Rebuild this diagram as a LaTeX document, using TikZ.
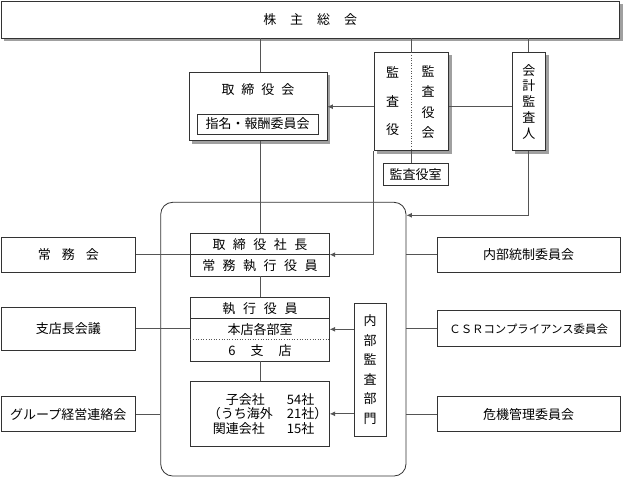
\documentclass[tikz,border=0pt]{standalone}
\usepackage{fontspec}
\newfontfamily\jp{Noto Sans CJK JP}
\usetikzlibrary{arrows.meta,backgrounds,calc}
\definecolor{bordc}{HTML}{333333}
\definecolor{linec}{HTML}{555555}
\definecolor{shadc}{HTML}{A0A0A0}
\newcommand{\sk}[1]{\hspace{#1pt}}
\begin{document}
\begin{tikzpicture}[x=1pt,y=-1pt,
  every node/.style={font=\jp\fontsize{13}{15}\selectfont, text=black, inner sep=0pt},
  box/.style={draw=bordc, line width=0.8pt, fill=white, rectangle},
  ln/.style={draw=linec, line width=0.8pt},
  arr/.style={ln, -{Latex[length=5.5pt,width=5pt]}},
  vtxt/.style={align=center, font=\jp\fontsize{13}{#1}\selectfont}
]
\useasboundingbox (0,0) rectangle (623,479);

% top
\node[box, minimum width=618.5pt, minimum height=37pt] (top) at (310.25,19.5) {株\sk{14}主\sk{14}総\sk{14}会};

% board
\node[box, minimum width=138pt, minimum height=68pt] (tori) at (258,106.7) {};
\node (toritxt) at (258,90) {取\sk{7}締\sk{7}役\sk{7}会};
\node[box, minimum width=121pt, minimum height=20pt] (shimei) at (257.5,124) {指名・報酬委員会};

% auditors
\node[box, minimum width=74.5pt, minimum height=98pt] (kansa) at (411.25,101.7) {};
\draw[dotted, linec, line width=0.6pt] (kansa.north) -- (kansa.south);
\node[vtxt=28.5] (kyaku) at (392.7,101.5) {監\\査\\役};
\node[vtxt=20.4] (kkai) at (428,102.3) {監\\査\\役\\会};

\node[box, minimum width=33.5pt, minimum height=98pt, vtxt=15.8] (kaikei) at (528.75,101.7) {会\\計\\監\\査\\人};

\node[box, minimum width=65pt, minimum height=22.7pt] (kshitsu) at (415.5,174.3) {監査役室};

% big rounded box
\node[draw=bordc, line width=0.8pt, rounded corners=12pt, minimum width=245.3pt, minimum height=273.7pt] (big) at (283.35,339.15) {};

% president
\node[box, minimum width=138.6pt, minimum height=42.7pt] (pres) at (260,254.65) {};
\draw[draw=bordc, line width=0.8pt] (pres.west) -- (pres.east);
\node (p1) at (260,245) {取\sk{7.5}締\sk{7.5}役\sk{7.5}社\sk{7.5}長};
\node (p2) at (260,266) {常\sk{7.5}務\sk{7.5}執\sk{7.5}行\sk{7.5}役\sk{7.5}員};

% executives
\node[box, minimum width=138.6pt, minimum height=63.3pt] (exec) at (260,329.35) {};
\draw[draw=bordc, line width=0.8pt] ($(exec.north west)+(0,20.6)$) -- ($(exec.north east)+(0,20.6)$);
\draw[draw=linec, dotted, line width=0.6pt] ($(exec.north west)+(0,41.8)$) -- ($(exec.north east)+(0,41.8)$);
\node (r1) at (260,309) {執\sk{7.7}行\sk{7.7}役\sk{7.7}員};
\node (r2) at (260,329.3) {本店各部室};
\node (r3) at (260,350.5) {6\sk{15}支\sk{15}店};

% subsidiaries
\node[box, minimum width=138.6pt, minimum height=64.3pt] (sub) at (260,413.85) {};
\node[anchor=east] (s1a) at (265,400) {子会社};
\node[anchor=west] (s1b) at (286.7,400) {54社};
\node[anchor=east] (s2a) at (273,414) {（うち海外};
\node[anchor=west] (s2b) at (286.7,414) {21社）};
\node[anchor=east] (s3a) at (265,428.5) {関連会社};
\node[anchor=west] (s3b) at (286.7,428.5) {15社};

% internal audit
\node[box, minimum width=31.7pt, minimum height=132.7pt, vtxt=19.6] (audit) at (370.15,369.65) {内\\部\\監\\査\\部\\門};

% left boxes
\node[box, minimum width=134.7pt, minimum height=35pt] (jomu) at (68.35,254.8) {常\sk{11}務\sk{11}会};
\node[box, minimum width=134.7pt, minimum height=42.3pt] (shiten) at (68.35,328.85) {支店長会議};
\node[box, minimum width=134.7pt, minimum height=35pt] (group) at (68.35,414.2) {グループ経営連絡会};

% right boxes
\node[box, minimum width=182.7pt, minimum height=35pt] (naibu) at (528.65,254.8) {内部統制委員会};
\node[box, minimum width=182.7pt, minimum height=36pt, font=\jp\fontsize{11.4}{13}\selectfont] (csr) at (528.65,328.7) {ＣＳＲコンプライアンス委員会};
\node[box, minimum width=182.7pt, minimum height=35pt] (kiki) at (528.65,414.2) {危機管理委員会};

% shadows
\begin{pgfonlayer}{background}
\foreach \n in {top,tori,kansa,kaikei}
  \fill[shadc] ($(\n.north west)+(3,3)$) rectangle ($(\n.south east)+(3,3)$);
\end{pgfonlayer}

% connectors
\draw[ln] (top.south -| pres.north) -- (tori.north -| pres.north);
\draw[ln] (tori.south -| pres.north) -- (pres.north);
\draw[ln] (top.south -| kansa.north) -- (kansa.north);
\draw[ln] (top.south -| kaikei.north) -- (kaikei.north);
\draw[arr] (tori.east -| kansa.west) -- (tori.east);
\draw[ln] (tori.east -| kansa.east) -- (tori.east -| kaikei.west);
\draw[ln] (kansa.south) -- (kansa.south |- kshitsu.north);
\draw[arr] (kansa.south west) -- (kansa.south west |- pres.east) -- (pres.east);
\coordinate (bigin) at ($(big.north east)+(0,13.4)$);
\draw[arr] (kaikei.south) -- (kaikei.south |- bigin) -- (bigin);
\draw[ln] (pres.south) -- (exec.north);
\draw[ln] (exec.south) -- (sub.north);
\draw[arr] (audit.west |- r2) -- (r2 -| exec.east);
\draw[arr] (audit.west |- sub.east) -- (sub.east);
\draw[ln] (jomu.east) -- (jomu.east -| pres.west);
\draw[ln] (shiten.east) -- (shiten.east -| exec.west);
\draw[ln] (group.east) -- (group.east -| big.west);
\draw[ln] (naibu.west) -- (naibu.west -| big.east);
\draw[ln] (csr.west) -- (csr.west -| big.east);
\draw[ln] (kiki.west) -- (kiki.west -| big.east);
\end{tikzpicture}
\end{document}
